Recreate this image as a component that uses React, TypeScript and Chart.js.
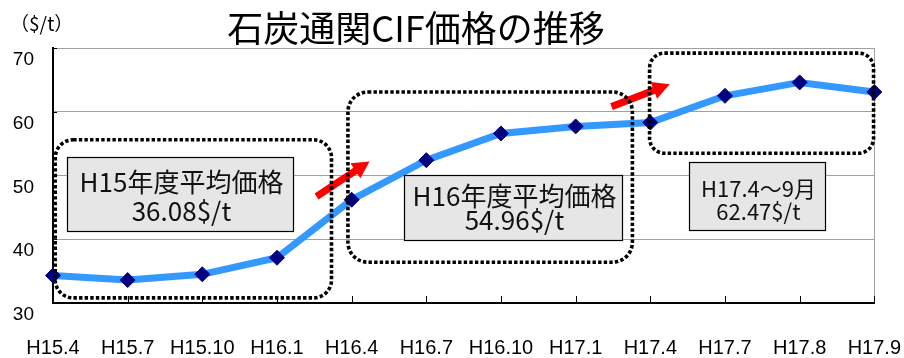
import React, { useEffect, useRef } from 'react';
import { Chart, registerables } from 'chart.js';

Chart.register(...registerables);

// Survey months (Heisei era year.month)
const periods = ['H15.4', 'H15.7', 'H15.10', 'H16.1', 'H16.4', 'H16.7', 'H16.10', 'H17.1', 'H17.4', 'H17.7', 'H17.8', 'H17.9'];
// Customs-cleared CIF price of coal, $/t
const cifPrices = [34.3, 33.6, 34.5, 37.1, 46.2, 52.4, 56.6, 57.7, 58.3, 62.5, 64.6, 63.1];
const yMin = 30;
const yMax = 70;
const yStep = 10;

const chartTitle = '石炭通関CIF価格の推移';
const unitLabel = '（$/t）';

const noteH15 = ['H15年度平均価格', '36.08$/t'];
const noteH16 = ['H16年度平均価格', '54.96$/t'];
const noteH17 = ['H17.4〜9月', '62.47$/t'];

// Dotted frames grouping each fiscal period (category index / price units)
const periodFrames = [
  { x0: 0.03, x1: 3.73, y0: 55.6, y1: 30.8, r: 18 },
  { x0: 3.95, x1: 7.76, y0: 63.1, y1: 36.4, r: 20 },
  { x0: 7.99, x1: 10.99, y0: 69.2, y1: 53.5, r: 15 },
];

// Boxes holding the period averages
const averageNotes = [
  { lines: noteH15, x0: 0.19, x1: 3.21, y0: 52.95, y1: 41.3, size: 26, offs: [24.5, 54] },
  { lines: noteH16, x0: 4.70, x1: 7.62, y0: 50.1, y1: 39.9, size: 26, offs: [21, 44.5] },
  { lines: noteH17, x0: 8.52, x1: 10.34, y0: 52.15, y1: 41.45, size: 22, offs: [26, 49.5] },
];

// Red arrows between periods
const stepArrows = [
  { fx: 3.53, fy: 46.7, tx: 4.24, ty: 52.2 },
  { fx: 7.48, fy: 60.8, tx: 8.26, ty: 64.3 },
];

const CJK = '"Noto Sans CJK JP", "Noto Sans", sans-serif';
const LATIN = '"Liberation Sans", Arial, sans-serif';

function drawArrow(ctx: CanvasRenderingContext2D, x1: number, y1: number, x2: number, y2: number) {
  const ang = Math.atan2(y2 - y1, x2 - x1);
  const len = Math.hypot(x2 - x1, y2 - y1);
  const shaft = 3.6;
  const head = 9;
  const headLen = 17;
  ctx.save();
  ctx.translate(x1, y1);
  ctx.rotate(ang);
  ctx.beginPath();
  ctx.moveTo(0, -shaft);
  ctx.lineTo(len - headLen, -shaft);
  ctx.lineTo(len - headLen, -head);
  ctx.lineTo(len, 0);
  ctx.lineTo(len - headLen, head);
  ctx.lineTo(len - headLen, shaft);
  ctx.lineTo(0, shaft);
  ctx.closePath();
  ctx.fillStyle = '#FF0000';
  ctx.fill();
  ctx.restore();
}

const decorPlugin = {
  id: 'decor',
  beforeDatasetsDraw(chart: any) {
    const { ctx, chartArea: a, scales } = chart;
    const x = scales.x;
    const y = scales.y;
    ctx.save();
    ctx.strokeStyle = '#A0A0A0';
    ctx.lineWidth = 1;
    ctx.beginPath();
    ctx.moveTo(Math.round(a.right) + 0.5, a.top);
    ctx.lineTo(Math.round(a.right) + 0.5, a.bottom);
    ctx.stroke();
    ctx.strokeStyle = '#000';
    ctx.beginPath();
    periods.forEach((_, i) => {
      const px = Math.round(x.getPixelForValue(i)) + 0.5;
      ctx.moveTo(px, a.bottom);
      ctx.lineTo(px, a.bottom - 7);
    });
    y.ticks.forEach((t: any) => {
      const py = Math.round(y.getPixelForValue(t.value)) + 0.5;
      ctx.moveTo(a.left, py);
      ctx.lineTo(a.left + 4, py);
    });
    ctx.stroke();
    ctx.restore();
  },
  afterDatasetsDraw(chart: any) {
    const { ctx, scales } = chart;
    const x = scales.x;
    const y = scales.y;
    ctx.save();
    stepArrows.forEach((ar) => {
      drawArrow(ctx, x.getPixelForValue(ar.fx), y.getPixelForValue(ar.fy), x.getPixelForValue(ar.tx), y.getPixelForValue(ar.ty));
    });
    ctx.strokeStyle = '#000';
    ctx.lineWidth = 3.6;
    ctx.setLineDash([3.4, 2.2]);
    periodFrames.forEach((f) => {
      const l = x.getPixelForValue(f.x0);
      const r = x.getPixelForValue(f.x1);
      const t = y.getPixelForValue(f.y0);
      const b = y.getPixelForValue(f.y1);
      ctx.beginPath();
      ctx.roundRect(l, t, r - l, b - t, f.r);
      ctx.stroke();
    });
    ctx.setLineDash([]);
    averageNotes.forEach((n) => {
      const l = Math.round(x.getPixelForValue(n.x0)) + 0.5;
      const r = Math.round(x.getPixelForValue(n.x1)) + 0.5;
      const t = Math.round(y.getPixelForValue(n.y0)) + 0.5;
      const b = Math.round(y.getPixelForValue(n.y1)) + 0.5;
      ctx.fillStyle = '#E6E6E6';
      ctx.fillRect(l, t, r - l, b - t);
      ctx.strokeStyle = '#000';
      ctx.lineWidth = 1.2;
      ctx.strokeRect(l, t, r - l, b - t);
      ctx.fillStyle = '#111';
      ctx.font = `${n.size}px ${CJK}`;
      ctx.textAlign = 'center';
      ctx.textBaseline = 'middle';
      n.lines.forEach((line, i) => {
        ctx.fillText(line, (l + r) / 2 + 1, t + n.offs[i]);
      });
    });
    ctx.restore();
  },
  afterDraw(chart: any) {
    const { ctx } = chart;
    ctx.save();
    ctx.fillStyle = '#000';
    ctx.textBaseline = 'middle';
    ctx.textAlign = 'center';
    ctx.font = `36px ${CJK}`;
    ctx.fillText(chartTitle, 416, 28);
    ctx.textAlign = 'left';
    ctx.font = `19px ${CJK}`;
    ctx.fillText(unitLabel, 10, 24);
    ctx.restore();
  },
};

export default function App() {
  const canvasRef = useRef<HTMLCanvasElement | null>(null);

  useEffect(() => {
    if (!canvasRef.current) return;
    const chart = new Chart(canvasRef.current, {
      type: 'line',
      data: {
        labels: periods,
        datasets: [
          {
            data: cifPrices,
            borderColor: '#3399FF',
            borderWidth: 7,
            tension: 0,
            pointStyle: 'rectRot',
            pointRadius: 7.5,
            pointBackgroundColor: '#000080',
            pointBorderColor: '#000080',
            pointBorderWidth: 1,
            clip: false as any,
          },
        ],
      },
      options: {
        animation: false,
        responsive: true,
        maintainAspectRatio: false,
        layout: { padding: { top: 48, right: 29, left: 0, bottom: 0 } },
        plugins: { legend: { display: false }, tooltip: { enabled: false }, title: { display: false } },
        scales: {
          x: {
            offset: false,
            grid: {
              display: true,
              drawOnChartArea: false,
              drawTicks: true,
              tickLength: 30,
              tickColor: 'rgba(0,0,0,0)',
            },
            border: { color: '#000', width: 2 },
            ticks: {
              color: '#000',
              font: { family: LATIN, size: 20 },
              padding: 3,
              maxRotation: 0,
              autoSkip: false,
            },
            afterFit: (s: any) => {
              s.height = 55;
            },
          },
          y: {
            min: yMin,
            max: yMax,
            grid: {
              drawTicks: false,
              color: (c: any) => (c.tick && c.tick.value === yMin ? 'rgba(0,0,0,0)' : '#A0A0A0'),
              lineWidth: 1,
            },
            border: { color: '#000', width: 2 },
            ticks: {
              stepSize: yStep,
              color: '#000',
              font: { family: LATIN, size: 19 },
              padding: 19,
              labelOffset: 12,
            },
            afterFit: (s: any) => {
              s.width = 53;
            },
          },
        },
      },
      plugins: [decorPlugin],
    });
    return () => chart.destroy();
  }, []);

  return (
    <div style={{ position: 'fixed', left: 0, top: 0, width: 904, height: 358, background: '#fff' }}>
      <canvas ref={canvasRef} />
    </div>
  );
}
